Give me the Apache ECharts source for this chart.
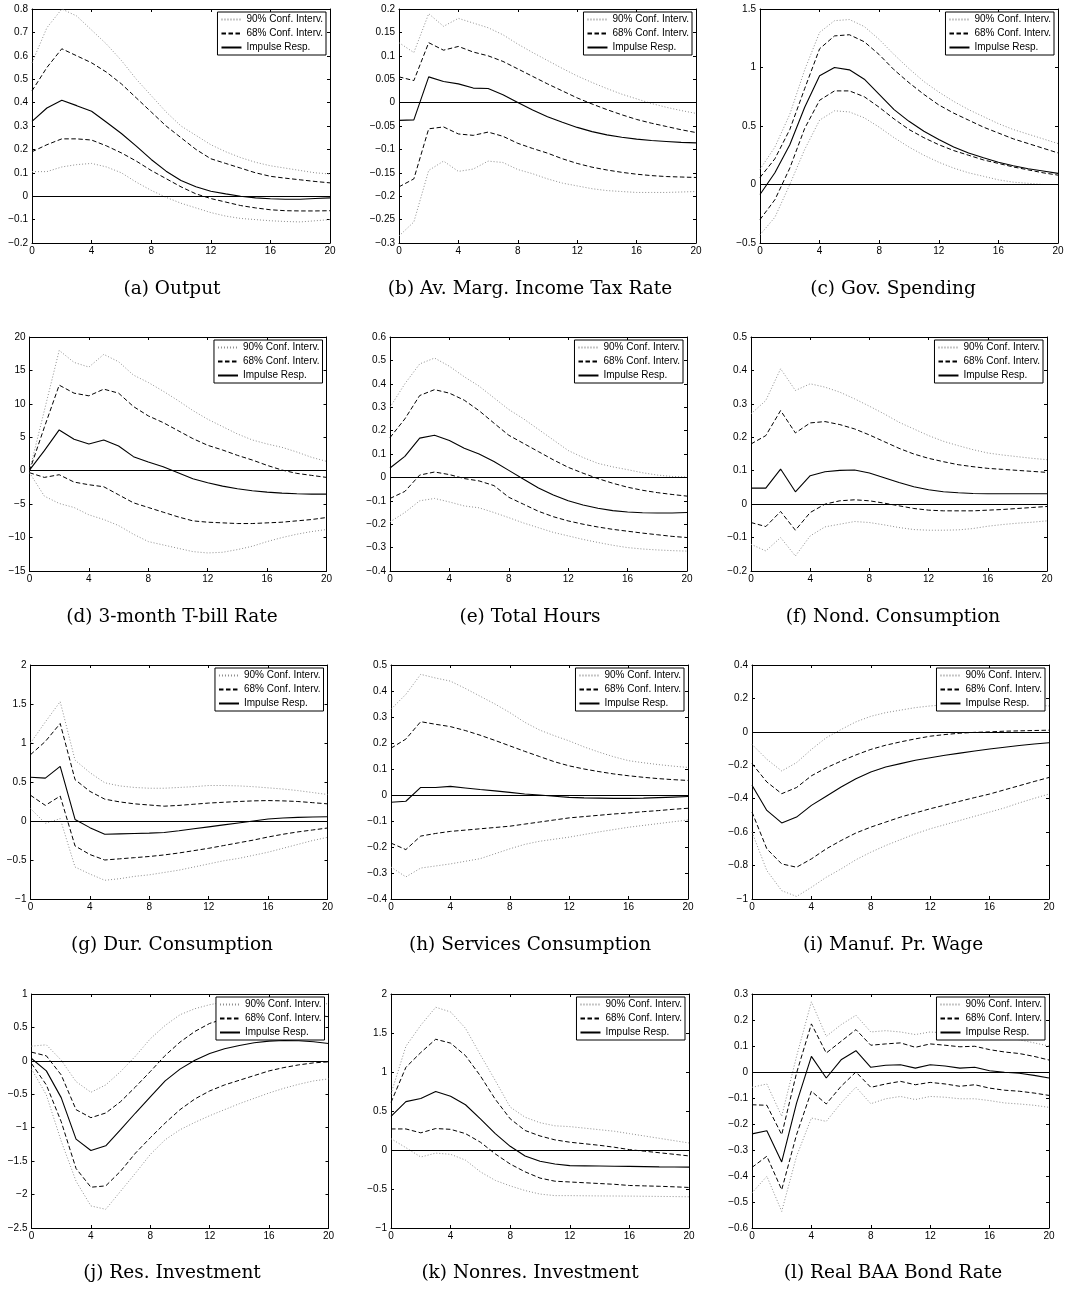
<!DOCTYPE html>
<html>
<head>
<meta charset="utf-8">
<script src="https://cdn.jsdelivr.net/npm/echarts@6/dist/echarts.min.js"></script>
<style>html,body{margin:0;padding:0;background:#fff}#c{width:1068px;height:1289px}</style>
</head>
<body>
<div id="c"></div>
<script>
// ---------- data ----------
const horizons = [0,1,2,3,4,5,6,7,8,9,10,11,12,13,14,15,16,17,18,19,20];
const xTicks = [0, 20, 4];
const legendNames = ['90% Conf. Interv.', '68% Conf. Interv.', 'Impulse Resp.'];
const captions = ['(a) Output','(b) Av. Marg. Income Tax Rate','(c) Gov. Spending',
  '(d) 3-month T-bill Rate','(e) Total Hours','(f) Nond. Consumption',
  '(g) Dur. Consumption','(h) Services Consumption','(i) Manuf. Pr. Wage',
  '(j) Res. Investment','(k) Nonres. Investment','(l) Real BAA Bond Rate'];
// y-axis [min, max, step] per panel
const yTicks = [[-0.2,0.8,0.1],[-0.3,0.2,0.05],[-0.5,1.5,0.5],
  [-15,20,5],[-0.4,0.6,0.1],[-0.2,0.5,0.1],
  [-1,2,0.5],[-0.4,0.5,0.1],[-1,0.4,0.2],
  [-2.5,1,0.5],[-1,2,0.5],[-0.6,0.3,0.1]];

// (a) Output
const outputHi90 = [0.57,0.72,0.80,0.77,0.71,0.65,0.58,0.50,0.43,0.36,0.30,0.26,0.22,0.19,0.165,0.145,0.13,0.12,0.11,0.10,0.095];
const outputHi68 = [0.45,0.55,0.63,0.60,0.57,0.53,0.48,0.42,0.36,0.30,0.25,0.20,0.16,0.14,0.12,0.10,0.085,0.077,0.07,0.063,0.057];
const outputIR   = [0.32,0.377,0.41,0.387,0.363,0.316,0.268,0.214,0.157,0.107,0.067,0.04,0.021,0.01,0.0,-0.007,-0.011,-0.013,-0.013,-0.01,-0.007];
const outputLo68 = [0.19,0.22,0.245,0.245,0.24,0.215,0.185,0.15,0.11,0.075,0.04,0.01,-0.01,-0.025,-0.04,-0.05,-0.058,-0.062,-0.063,-0.063,-0.062];
const outputLo90 = [0.105,0.105,0.125,0.135,0.14,0.125,0.1,0.06,0.025,-0.005,-0.03,-0.05,-0.07,-0.085,-0.095,-0.1,-0.105,-0.108,-0.11,-0.105,-0.1];
// (b) Tax rate
const taxHi90 = [0.128,0.107,0.19,0.163,0.18,0.17,0.16,0.145,0.125,0.107,0.09,0.073,0.057,0.043,0.03,0.018,0.008,-0.002,-0.01,-0.017,-0.023];
const taxHi68 = [0.055,0.047,0.128,0.112,0.12,0.108,0.1,0.088,0.072,0.056,0.04,0.025,0.01,-0.003,-0.015,-0.026,-0.036,-0.044,-0.051,-0.058,-0.064];
const taxIR   = [-0.038,-0.037,0.055,0.045,0.04,0.031,0.03,0.017,0.0,-0.016,-0.03,-0.042,-0.053,-0.062,-0.069,-0.074,-0.078,-0.081,-0.083,-0.085,-0.086];
const taxLo68 = [-0.18,-0.163,-0.056,-0.052,-0.067,-0.07,-0.063,-0.072,-0.087,-0.098,-0.108,-0.12,-0.13,-0.138,-0.144,-0.149,-0.153,-0.156,-0.158,-0.159,-0.16];
const taxLo90 = [-0.285,-0.255,-0.145,-0.125,-0.147,-0.142,-0.125,-0.128,-0.143,-0.152,-0.163,-0.172,-0.178,-0.184,-0.188,-0.19,-0.192,-0.192,-0.192,-0.191,-0.19];
// (c) Gov. spending
const govHi90 = [0.13,0.32,0.6,0.98,1.3,1.4,1.41,1.35,1.24,1.11,0.99,0.88,0.79,0.71,0.64,0.58,0.52,0.47,0.43,0.39,0.35];
const govHi68 = [0.06,0.22,0.47,0.82,1.16,1.27,1.28,1.22,1.11,0.98,0.87,0.77,0.68,0.61,0.55,0.49,0.44,0.39,0.35,0.31,0.27];
const govIR   = [-0.085,0.1,0.34,0.66,0.93,1.0,0.98,0.9,0.77,0.64,0.54,0.455,0.385,0.32,0.27,0.228,0.19,0.16,0.135,0.115,0.095];
const govLo68 = [-0.3,-0.13,0.14,0.48,0.72,0.8,0.8,0.75,0.66,0.56,0.47,0.4,0.34,0.29,0.25,0.21,0.18,0.15,0.125,0.1,0.08];
const govLo90 = [-0.43,-0.28,0.0,0.3,0.55,0.63,0.62,0.57,0.49,0.4,0.32,0.25,0.19,0.14,0.1,0.07,0.04,0.02,0.01,0.0,0.0];
// (d) T-bill
const tbillHi90 = [0,9.0,18.0,16.2,15.5,17.4,16.3,14.3,13.2,11.9,10.5,9.0,7.7,6.6,5.5,4.6,4.0,3.5,2.8,2.0,1.4];
const tbillHi68 = [0,6.5,12.8,11.6,11.2,12.2,11.6,9.6,8.2,7.2,6.0,4.8,3.8,3.1,2.3,1.6,0.8,0.1,-0.4,-0.7,-1.0];
const tbillIR   = [0.1,3.0,6.1,4.7,4.0,4.6,3.7,2.1,1.3,0.6,-0.3,-1.2,-1.8,-2.3,-2.7,-3.0,-3.2,-3.35,-3.45,-3.5,-3.5];
const tbillLo68 = [-0.3,-1.0,-0.6,-1.7,-2.1,-2.4,-3.6,-4.8,-5.5,-6.2,-6.9,-7.5,-7.7,-7.8,-7.9,-7.9,-7.8,-7.7,-7.5,-7.3,-7.0];
const tbillLo90 = [-0.3,-3.8,-4.9,-5.5,-6.6,-7.3,-8.2,-9.5,-10.6,-11.1,-11.6,-12.1,-12.3,-12.2,-11.8,-11.3,-10.6,-10.0,-9.5,-9.1,-8.8];
// (e) Total hours
const hoursHi90 = [0.3,0.4,0.485,0.51,0.475,0.43,0.39,0.34,0.29,0.25,0.205,0.16,0.115,0.085,0.06,0.045,0.033,0.02,0.01,0.004,0.002];
const hoursHi68 = [0.17,0.25,0.35,0.375,0.36,0.33,0.285,0.232,0.18,0.145,0.11,0.075,0.043,0.018,-0.005,-0.025,-0.042,-0.055,-0.065,-0.073,-0.08];
const hoursIR   = [0.04,0.09,0.168,0.18,0.158,0.125,0.1,0.068,0.03,-0.008,-0.045,-0.075,-0.1,-0.118,-0.132,-0.142,-0.148,-0.151,-0.152,-0.152,-0.15];
const hoursLo68 = [-0.09,-0.06,0.01,0.023,0.012,-0.005,-0.015,-0.035,-0.085,-0.115,-0.145,-0.168,-0.186,-0.2,-0.212,-0.222,-0.23,-0.238,-0.245,-0.252,-0.257];
const hoursLo90 = [-0.19,-0.15,-0.1,-0.09,-0.105,-0.122,-0.13,-0.15,-0.172,-0.195,-0.215,-0.235,-0.25,-0.265,-0.278,-0.29,-0.3,-0.306,-0.31,-0.313,-0.315];
// (f) Nondurable consumption
const nondHi90 = [0.27,0.31,0.405,0.34,0.36,0.35,0.335,0.315,0.293,0.27,0.245,0.225,0.205,0.188,0.175,0.163,0.153,0.147,0.142,0.137,0.133];
const nondHi68 = [0.18,0.205,0.28,0.213,0.243,0.247,0.238,0.225,0.207,0.187,0.167,0.15,0.137,0.127,0.118,0.112,0.107,0.104,0.101,0.098,0.095];
const nondIR   = [0.048,0.048,0.105,0.037,0.085,0.097,0.101,0.102,0.093,0.079,0.065,0.052,0.043,0.037,0.034,0.032,0.031,0.031,0.031,0.031,0.031];
const nondLo68 = [-0.055,-0.067,-0.022,-0.078,-0.025,0.0,0.01,0.013,0.01,0.003,-0.005,-0.013,-0.018,-0.02,-0.02,-0.02,-0.018,-0.016,-0.013,-0.01,-0.007];
const nondLo90 = [-0.12,-0.14,-0.1,-0.155,-0.095,-0.068,-0.06,-0.052,-0.055,-0.062,-0.07,-0.076,-0.078,-0.078,-0.077,-0.073,-0.066,-0.061,-0.057,-0.054,-0.05];
// (g) Durable consumption
const durHi90 = [1.0,1.27,1.53,0.78,0.62,0.49,0.45,0.43,0.42,0.42,0.43,0.44,0.455,0.455,0.45,0.44,0.425,0.41,0.39,0.365,0.34];
const durHi68 = [0.85,1.02,1.25,0.53,0.38,0.28,0.245,0.22,0.205,0.19,0.2,0.215,0.23,0.24,0.25,0.258,0.262,0.258,0.25,0.235,0.22];
const durIR   = [0.56,0.55,0.7,0.02,-0.085,-0.17,-0.165,-0.16,-0.155,-0.148,-0.125,-0.1,-0.075,-0.05,-0.025,0.0,0.025,0.038,0.047,0.052,0.055];
const durLo68 = [0.33,0.2,0.32,-0.32,-0.43,-0.5,-0.485,-0.47,-0.455,-0.435,-0.41,-0.38,-0.35,-0.315,-0.28,-0.245,-0.205,-0.17,-0.14,-0.115,-0.09];
const durLo90 = [0.16,-0.03,0.03,-0.59,-0.68,-0.76,-0.74,-0.71,-0.69,-0.66,-0.63,-0.59,-0.55,-0.51,-0.48,-0.44,-0.4,-0.35,-0.3,-0.25,-0.21];
// (h) Services consumption
const servHi90 = [0.33,0.387,0.464,0.45,0.438,0.41,0.38,0.35,0.317,0.28,0.25,0.228,0.208,0.185,0.165,0.147,0.132,0.124,0.117,0.111,0.106];
const servHi68 = [0.18,0.215,0.282,0.272,0.263,0.248,0.23,0.21,0.189,0.168,0.148,0.128,0.112,0.1,0.09,0.081,0.074,0.068,0.063,0.059,0.056];
const servIR   = [-0.028,-0.024,0.029,0.029,0.033,0.027,0.021,0.016,0.01,0.004,0.0,-0.005,-0.009,-0.011,-0.012,-0.013,-0.013,-0.012,-0.01,-0.008,-0.006];
const servLo68 = [-0.185,-0.21,-0.158,-0.148,-0.14,-0.135,-0.13,-0.125,-0.12,-0.112,-0.104,-0.096,-0.088,-0.083,-0.078,-0.073,-0.069,-0.064,-0.06,-0.055,-0.051];
const servLo90 = [-0.277,-0.315,-0.281,-0.273,-0.265,-0.255,-0.245,-0.226,-0.207,-0.19,-0.178,-0.17,-0.162,-0.152,-0.142,-0.133,-0.124,-0.117,-0.11,-0.103,-0.096];
// (i) Manufacturing wage
const wageHi90 = [-0.075,-0.164,-0.234,-0.184,-0.105,-0.035,0.014,0.06,0.093,0.115,0.13,0.145,0.155,0.162,0.167,0.17,0.17,0.168,0.165,0.16,0.155];
const wageHi68 = [-0.19,-0.3,-0.37,-0.333,-0.263,-0.215,-0.175,-0.138,-0.105,-0.08,-0.06,-0.042,-0.026,-0.016,-0.008,-0.003,0.0,0.004,0.006,0.008,0.01];
const wageIR   = [-0.32,-0.47,-0.545,-0.51,-0.44,-0.385,-0.33,-0.28,-0.24,-0.21,-0.19,-0.17,-0.155,-0.14,-0.127,-0.115,-0.103,-0.092,-0.082,-0.073,-0.065];
const wageLo68 = [-0.48,-0.7,-0.79,-0.81,-0.76,-0.7,-0.65,-0.605,-0.57,-0.54,-0.51,-0.485,-0.46,-0.438,-0.415,-0.393,-0.372,-0.347,-0.322,-0.297,-0.273];
const wageLo90 = [-0.6,-0.83,-0.95,-0.985,-0.93,-0.87,-0.82,-0.765,-0.72,-0.68,-0.645,-0.61,-0.58,-0.555,-0.53,-0.505,-0.48,-0.455,-0.425,-0.398,-0.372];
// (j) Residential investment
const resHi90 = [0.22,0.24,0.01,-0.31,-0.47,-0.36,-0.16,0.07,0.33,0.53,0.69,0.78,0.84,0.88,0.91,0.92,0.92,0.91,0.9,0.88,0.85];
const resHi68 = [0.13,0.075,-0.21,-0.73,-0.85,-0.78,-0.61,-0.39,-0.16,0.08,0.28,0.44,0.56,0.63,0.68,0.71,0.72,0.72,0.71,0.69,0.66];
const resIR   = [0.035,-0.15,-0.55,-1.17,-1.34,-1.27,-1.03,-0.78,-0.54,-0.3,-0.124,0.01,0.11,0.18,0.23,0.27,0.295,0.305,0.3,0.285,0.26];
const resLo68 = [-0.04,-0.36,-0.91,-1.61,-1.89,-1.87,-1.65,-1.38,-1.15,-0.93,-0.73,-0.57,-0.45,-0.36,-0.29,-0.22,-0.15,-0.1,-0.06,-0.03,-0.015];
const resLo90 = [-0.12,-0.51,-1.2,-1.8,-2.17,-2.22,-1.95,-1.68,-1.4,-1.18,-1.03,-0.92,-0.82,-0.73,-0.64,-0.56,-0.48,-0.41,-0.35,-0.3,-0.27];
// (k) Nonresidential investment
const nonresHi90 = [0.72,1.33,1.6,1.83,1.77,1.56,1.22,0.89,0.55,0.42,0.35,0.31,0.3,0.28,0.26,0.24,0.21,0.18,0.15,0.12,0.09];
const nonresHi68 = [0.61,1.06,1.25,1.42,1.37,1.21,0.95,0.65,0.4,0.25,0.18,0.13,0.1,0.08,0.06,0.035,0.005,-0.015,-0.035,-0.055,-0.076];
const nonresIR   = [0.43,0.62,0.66,0.75,0.69,0.58,0.4,0.21,0.047,-0.076,-0.144,-0.18,-0.2,-0.203,-0.206,-0.208,-0.21,-0.213,-0.216,-0.218,-0.22];
const nonresLo68 = [0.27,0.27,0.22,0.275,0.265,0.21,0.1,-0.05,-0.18,-0.28,-0.36,-0.4,-0.41,-0.42,-0.43,-0.44,-0.455,-0.46,-0.465,-0.472,-0.48];
const nonresLo90 = [0.145,0.03,-0.09,-0.04,-0.055,-0.13,-0.28,-0.39,-0.46,-0.52,-0.565,-0.585,-0.585,-0.587,-0.589,-0.59,-0.591,-0.593,-0.595,-0.597,-0.6];
// (l) Real BAA bond rate
const baaHi90 = [-0.059,-0.046,-0.17,0.06,0.27,0.137,0.182,0.218,0.154,0.159,0.154,0.144,0.154,0.15,0.146,0.142,0.135,0.13,0.124,0.112,0.1];
const baaHi68 = [-0.126,-0.128,-0.241,-0.004,0.185,0.073,0.118,0.163,0.103,0.108,0.112,0.095,0.108,0.103,0.097,0.099,0.086,0.077,0.071,0.06,0.046];
const baaIR   = [-0.238,-0.226,-0.346,-0.12,0.06,-0.023,0.047,0.082,0.018,0.026,0.028,0.015,0.028,0.023,0.015,0.018,0.005,-0.001,-0.005,-0.013,-0.023];
const baaLo68 = [-0.367,-0.324,-0.453,-0.241,-0.074,-0.123,-0.055,0.0,-0.059,-0.046,-0.036,-0.049,-0.04,-0.046,-0.055,-0.049,-0.062,-0.07,-0.074,-0.081,-0.09];
const baaLo90 = [-0.465,-0.401,-0.536,-0.324,-0.177,-0.19,-0.119,-0.058,-0.122,-0.103,-0.094,-0.106,-0.094,-0.097,-0.103,-0.103,-0.11,-0.119,-0.123,-0.128,-0.136];

// ---------- layout (pixels) ----------
const plotBoxes = [
  [32,9,298,234],[399,9,297,234],[760,9,298,234],
  [29.5,337,297,234],[390,337,297,234],[751,337,296,234],
  [30.5,665,297,234],[391,665,297,234],[752,665,297,234],
  [31.5,994,297,234],[391,994,298,234],[752,994,297,234]
];
const captionX = [172, 530, 893];
const captionY = [289, 617, 945, 1273];

// ---------- build ----------
const panelSeries = [
  [outputHi90,outputHi68,outputIR,outputLo68,outputLo90],
  [taxHi90,taxHi68,taxIR,taxLo68,taxLo90],
  [govHi90,govHi68,govIR,govLo68,govLo90],
  [tbillHi90,tbillHi68,tbillIR,tbillLo68,tbillLo90],
  [hoursHi90,hoursHi68,hoursIR,hoursLo68,hoursLo90],
  [nondHi90,nondHi68,nondIR,nondLo68,nondLo90],
  [durHi90,durHi68,durIR,durLo68,durLo90],
  [servHi90,servHi68,servIR,servLo68,servLo90],
  [wageHi90,wageHi68,wageIR,wageLo68,wageLo90],
  [resHi90,resHi68,resIR,resLo68,resLo90],
  [nonresHi90,nonresHi68,nonresIR,nonresLo68,nonresLo90],
  [baaHi90,baaHi68,baaIR,baaLo68,baaLo90]
];

const CW = 1068;
const FONT = 'Liberation Sans, Arial, Helvetica, sans-serif';
const fmt = v => String(+(+v).toFixed(6)).replace('-', '\u2212');
const style90 = {color:'#8e8e8e', width:1, type:[1,2]};
const style68 = {color:'#000', width:1, type:[4.5,2.5]};
const styleIR = {color:'#000', width:1.1, type:'solid'};

const grids=[], xAxes=[], yAxes=[], series=[], legends=[], graphics=[];
const axisLine = {show:true, onZero:false, lineStyle:{color:'#000', width:1}};
const axisTick = {show:true, inside:true, length:3, lineStyle:{color:'#000', width:1}};
const lblStyle = {fontFamily:FONT, fontSize:10, color:'#000'};

panelSeries.forEach((arrs, i) => {
  const [L,T,Wd,H] = plotBoxes[i];
  grids.push({left:L, top:T, width:Wd, height:H, containLabel:false});
  xAxes.push({gridIndex:i, type:'value', position:'bottom', min:xTicks[0], max:xTicks[1], interval:xTicks[2],
    axisLine, axisTick, splitLine:{show:false}, axisLabel:Object.assign({margin:3, formatter:fmt}, lblStyle)});
  xAxes.push({gridIndex:i, type:'value', position:'top', min:xTicks[0], max:xTicks[1], interval:xTicks[2],
    axisLine, axisTick, splitLine:{show:false}, axisLabel:{show:false}});
  const [ymin,ymax,ystep] = yTicks[i];
  yAxes.push({gridIndex:i, type:'value', position:'left', min:ymin, max:ymax, interval:ystep,
    axisLine, axisTick, splitLine:{show:false}, axisLabel:Object.assign({margin:4, formatter:fmt}, lblStyle)});
  yAxes.push({gridIndex:i, type:'value', position:'right', min:ymin, max:ymax, interval:ystep,
    axisLine, axisTick, splitLine:{show:false}, axisLabel:{show:false}});

  const names = [legendNames[0], legendNames[1], legendNames[2], legendNames[1], legendNames[0]];
  const styles = [style90, style68, styleIR, style68, style90];
  arrs.forEach((vals, k) => {
    const s = {
      type:'line', name:names[k], xAxisIndex:2*i, yAxisIndex:2*i,
      data: horizons.map((h, j) => [h, vals[j]]),
      symbol:'none', showSymbol:false, lineStyle:styles[k], silent:true,
      z: k === 2 ? 4 : 3
    };
    if (k === 2) {
      s.markLine = {silent:true, symbol:['none','none'], label:{show:false},
        lineStyle:{color:'#000', width:1, type:'solid'}, data:[{yAxis:0}], animation:false};
    }
    series.push(s);
  });

  legends.push({
    orient:'vertical', right: CW - (L + Wd) + 4, top: T + 3,
    data: legendNames, selectedMode:false,
    itemWidth:20, itemHeight:9, itemGap:3,
    padding:[2,3,2,3],
    backgroundColor:'#fff', borderColor:'#000', borderWidth:1,
    itemStyle:{opacity:0, color:'rgba(0,0,0,0)', borderWidth:0},
    textStyle:{fontFamily:FONT, fontSize:10, color:'#000', lineHeight:11}
  });

  graphics.push({
    type:'text', x: captionX[i % 3], y: captionY[Math.floor(i / 3)], silent:true,
    style:{text: captions[i], textAlign:'center', textVerticalAlign:'middle',
      font:'normal 18.5px "DejaVu Serif", "Liberation Serif", serif', fill:'#000'}
  });
});

const chart = echarts.init(document.getElementById('c'), null, {renderer:'canvas', width:1068, height:1289});
chart.setOption({
  animation:false,
  backgroundColor:'#fff',
  grid:grids, xAxis:xAxes, yAxis:yAxes, series, legend:legends, graphic:graphics
});
</script>
</body>
</html>
